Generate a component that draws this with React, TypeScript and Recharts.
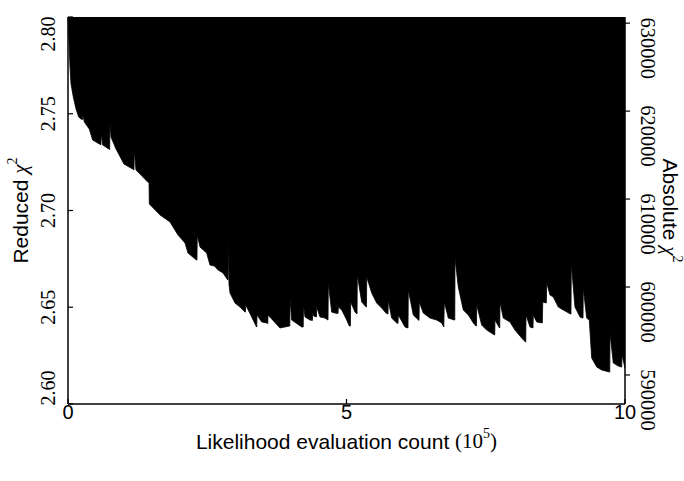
import React from "react"
import { ComposedChart, Area, Line, XAxis, YAxis } from "recharts"

// likelihood evaluation count, in units of 10^5
const COUNT = [
  0.0, 0.02, 0.036, 0.054, 0.095, 0.144, 0.192, 0.233, 0.26, 0.269, 0.293, 0.382, 0.443, 0.562, 0.592, 0.598,
  0.623, 0.731, 0.748, 0.754, 0.772, 0.862, 1.005, 1.162, 1.185, 1.19, 1.221, 1.311, 1.431, 1.455, 1.46, 1.652,
  1.831, 1.975, 2.101, 2.154, 2.307, 2.315, 2.321, 2.37, 2.49, 2.549, 2.63, 2.693, 2.783, 2.867, 2.873, 2.878,
  2.89, 2.908, 2.998, 3.088, 3.178, 3.185, 3.19, 3.298, 3.384, 3.389, 3.393, 3.478, 3.567, 3.586, 3.591, 3.806,
  3.977, 3.982, 3.986, 4.016, 4.196, 4.223, 4.228, 4.255, 4.345, 4.388, 4.393, 4.41, 4.46, 4.465, 4.524, 4.614,
  4.668, 4.674, 4.734, 4.794, 4.848, 4.853, 4.914, 5.004, 5.05, 5.07, 5.075, 5.153, 5.189, 5.194, 5.273, 5.354,
  5.358, 5.363, 5.452, 5.542, 5.632, 5.709, 5.745, 5.75, 5.811, 5.901, 5.925, 5.93, 6.05, 6.104, 6.11, 6.199,
  6.293, 6.302, 6.307, 6.379, 6.499, 6.619, 6.709, 6.747, 6.756, 6.828, 6.939, 6.944, 6.948, 7.007, 7.097, 7.187,
  7.277, 7.325, 7.333, 7.338, 7.427, 7.517, 7.657, 7.661, 7.666, 7.747, 7.751, 7.756, 7.815, 7.935, 8.025, 8.145,
  8.214, 8.218, 8.223, 8.294, 8.348, 8.354, 8.415, 8.515, 8.523, 8.587, 8.595, 8.654, 8.713, 8.803, 8.892, 9.022,
  9.03, 9.036, 9.102, 9.192, 9.237, 9.246, 9.251, 9.312, 9.359, 9.402, 9.492, 9.582, 9.722, 9.726, 9.731, 9.79,
  9.88, 9.937, 9.941, 9.946, 10.0,
]

// lower envelope of reduced chi^2
const REDUCED = [
  2.8, 2.785, 2.7742, 2.7654, 2.7587, 2.7525, 2.7483, 2.7473, 2.747, 2.7494, 2.7457, 2.7421, 2.7364, 2.7344, 2.734, 2.7401,
  2.7339, 2.7318, 2.7315, 2.7452, 2.738, 2.7318, 2.724, 2.7214, 2.721, 2.7313, 2.7209, 2.7183, 2.7147, 2.7145, 2.7034, 2.6977,
  2.6941, 2.6873, 2.6832, 2.678, 2.6744, 2.6744, 2.6873, 2.6811, 2.678, 2.6718, 2.6713, 2.6693, 2.6677, 2.6641, 2.6641, 2.6858,
  2.662, 2.6574, 2.6522, 2.6501, 2.6475, 2.6475, 2.6512, 2.645, 2.6398, 2.6398, 2.646, 2.6424, 2.6419, 2.6415, 2.646, 2.6393,
  2.6403, 2.6403, 2.6548, 2.6434, 2.6398, 2.6398, 2.6512, 2.645, 2.6434, 2.6432, 2.6475, 2.6455, 2.645, 2.6501, 2.645, 2.6444,
  2.6434, 2.6625, 2.6475, 2.647, 2.6468, 2.6501, 2.6486, 2.6434, 2.6403, 2.6403, 2.6527, 2.6475, 2.6465, 2.6667, 2.6527, 2.6501,
  2.6501, 2.6656, 2.6574, 2.6522, 2.6496, 2.647, 2.6465, 2.6537, 2.6444, 2.6419, 2.6417, 2.646, 2.6398, 2.6393, 2.6589, 2.646,
  2.6434, 2.6432, 2.6527, 2.647, 2.6444, 2.6434, 2.6419, 2.6398, 2.6527, 2.6444, 2.6434, 2.6434, 2.6755, 2.6605, 2.6486, 2.646,
  2.6419, 2.6403, 2.6403, 2.6512, 2.6408, 2.6382, 2.6357, 2.6357, 2.6434, 2.6393, 2.6393, 2.6527, 2.6444, 2.6424, 2.6382, 2.6341,
  2.632, 2.632, 2.646, 2.6398, 2.6393, 2.646, 2.6424, 2.6419, 2.6527, 2.6522, 2.6625, 2.6563, 2.6553, 2.6501, 2.6486, 2.6465,
  2.6465, 2.6724, 2.6501, 2.645, 2.6444, 2.6444, 2.6599, 2.6444, 2.6434, 2.6238, 2.6191, 2.6176, 2.6165, 2.6165, 2.6367, 2.6212,
  2.6196, 2.6191, 2.6191, 2.6253, 2.6186,
]

const X_TICKS = [0, 5, 10]
const LEFT_TICKS = [2.6, 2.65, 2.7, 2.75, 2.8]
const RIGHT_TICKS = [590000, 600000, 610000, 620000, 630000]
const DOF = 225000

const data = COUNT.map((c, i) => ({ c, r: REDUCED[i] }))

const SANS = "'Liberation Sans', Arial, sans-serif"
const SERIF = "'Liberation Serif', 'Times New Roman', serif"

const LeftTick = (props: any) => {
  const { x, y, payload } = props
  let dy = 0
  if (payload.value >= 2.8) dy = 17
  if (payload.value <= 2.6) dy = -16
  return (
    <g>
      <line x1={x} x2={x + 5} y1={y} y2={y} stroke="#000" strokeWidth={1.2} />
      <text x={x - 20} y={y + dy} transform={`rotate(-90, ${x - 20}, ${y + dy})`} textAnchor="middle"
        dominantBaseline="central" fontFamily={SERIF} fontSize={20} fill="#000">
        {payload.value.toFixed(2)}
      </text>
    </g>
  )
}

const RightTick = (props: any) => {
  const { x, y, payload } = props
  return (
    <g>
      <line x1={x} x2={x + 5} y1={y} y2={y} stroke="#000" strokeWidth={1.2} />
      <text x={x + 23} y={y + 25} transform={`rotate(90, ${x + 23}, ${y + 25})`} textAnchor="middle"
        dominantBaseline="central" fontFamily={SERIF} fontSize={20.5} fill="#000">
        {payload.value}
      </text>
    </g>
  )
}

const BottomTick = (props: any) => {
  const { x, y, payload } = props
  return (
    <g>
      <line x1={x} x2={x} y1={y} y2={y - 5} stroke="#000" strokeWidth={1.2} />
      <text x={x} y={y + 8} textAnchor="middle" dominantBaseline="central" fontFamily={SANS} fontSize={20} fill="#000">
        {payload.value}
      </text>
    </g>
  )
}

export default function App() {
  return (
    <div style={{ position: "absolute", left: 0, top: 0, width: 684, height: 481 }}>
      <ComposedChart width={684} height={481} data={data} margin={{ top: 17, right: 0, bottom: 0, left: 0 }}>
        <XAxis
          dataKey="c"
          type="number"
          domain={[0, 10]}
          ticks={X_TICKS}
          height={77}
          tickSize={0}
          tickMargin={0}
          tickLine={false}
          tick={BottomTick}
          axisLine={{ stroke: "#000", strokeWidth: 1.5 }}
          label={{
            content: (p: any) => {
              const vb = p.viewBox
              return (
                <text x={vb.x + vb.width / 2} y={vb.y + 37} textAnchor="middle" dominantBaseline="central"
                  fontFamily={SANS} fontSize={21} fill="#000">
                  Likelihood evaluation count <tspan fontFamily={SERIF}>(10</tspan>
                  <tspan fontFamily={SERIF} fontSize={14} dy={-8}>5</tspan>
                  <tspan fontFamily={SERIF} dy={8}>)</tspan>
                </text>
              )
            },
          }}
        />
        <YAxis
          yAxisId="left"
          type="number"
          domain={[2.6, 2.8]}
          ticks={LEFT_TICKS}
          allowDataOverflow
          width={68}
          tickSize={0}
          tickMargin={0}
          tickLine={false}
          tick={LeftTick}
          axisLine={{ stroke: "#000", strokeWidth: 1.5 }}
          label={{
            content: (p: any) => {
              const vb = p.viewBox
              const cx = vb.x + 20
              const cy = vb.y + vb.height / 2
              return (
                <text x={cx} y={cy} transform={`rotate(-90, ${cx}, ${cy})`} textAnchor="middle"
                  dominantBaseline="central" fontFamily={SANS} fontSize={21} fill="#000">
                  Reduced <tspan fontFamily={SERIF} fontStyle="italic">χ</tspan>
                  <tspan fontFamily={SERIF} fontSize={14} dy={-8}>2</tspan>
                </text>
              )
            },
          }}
        />
        <YAxis
          yAxisId="right"
          orientation="right"
          type="number"
          domain={[586700, 630700]}
          ticks={RIGHT_TICKS}
          allowDataOverflow
          width={59}
          tickSize={0}
          tickMargin={0}
          tickLine={false}
          tick={RightTick}
          axisLine={{ stroke: "#000", strokeWidth: 1.5 }}
          label={{
            content: (p: any) => {
              const vb = p.viewBox
              const cx = vb.x + 45
              const cy = vb.y + vb.height / 2
              return (
                <text x={cx} y={cy} transform={`rotate(90, ${cx}, ${cy})`} textAnchor="middle"
                  dominantBaseline="central" fontFamily={SANS} fontSize={21} fill="#000">
                  Absolute <tspan fontFamily={SERIF} fontStyle="italic">χ</tspan>
                  <tspan fontFamily={SERIF} fontSize={14} dy={-8}>2</tspan>
                </text>
              )
            },
          }}
        />
        <Area
          yAxisId="left"
          type="linear"
          dataKey="r"
          baseValue="dataMax"
          stroke="#000"
          strokeWidth={0.8}
          fill="#000"
          fillOpacity={1}
          dot={false}
          activeDot={false}
          isAnimationActive={false}
        />
        <Line
          yAxisId="right"
          type="linear"
          dataKey={(d: any) => d.r * DOF}
          stroke="none"
          dot={false}
          activeDot={false}
          isAnimationActive={false}
        />
      </ComposedChart>
    </div>
  )
}
